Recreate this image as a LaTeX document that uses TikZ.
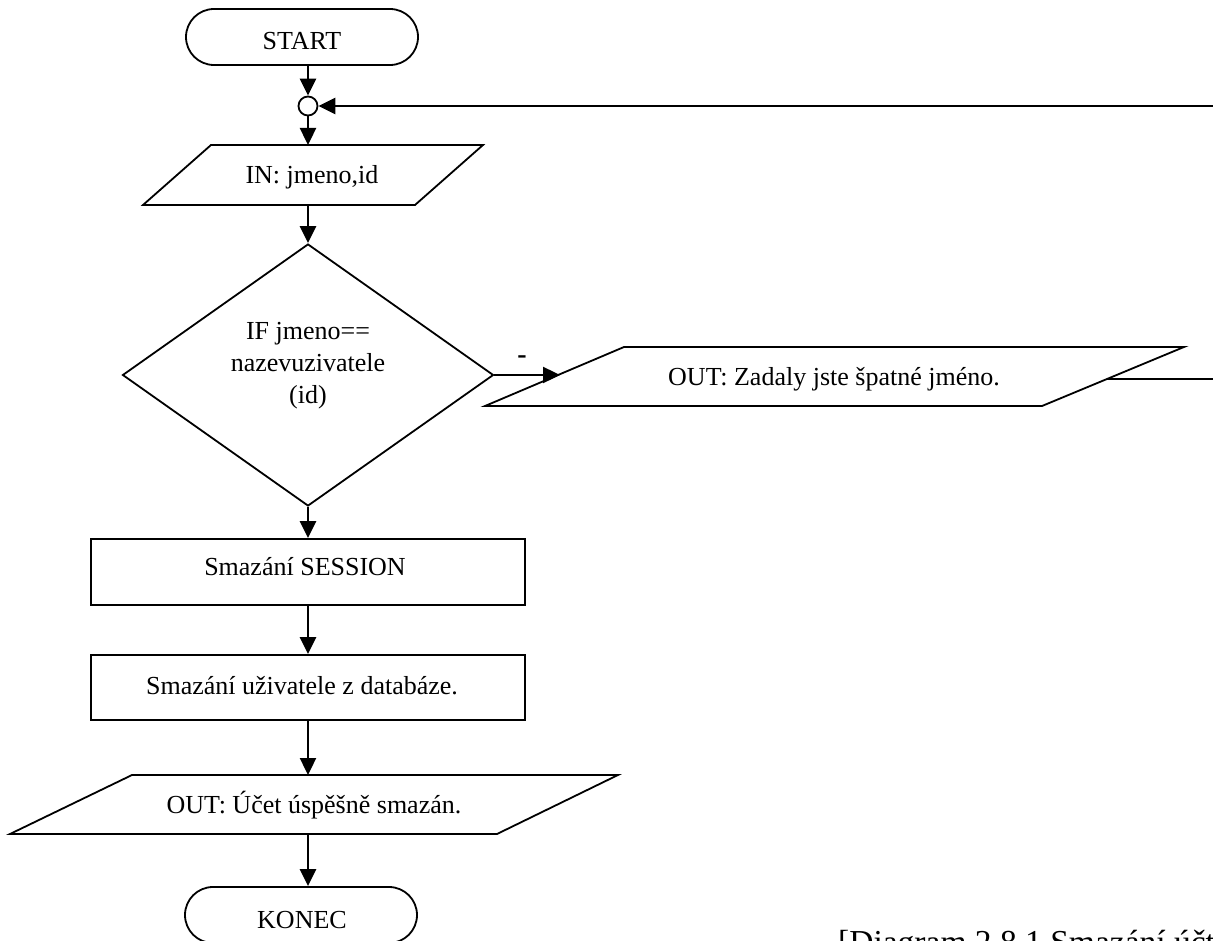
\documentclass[tikz,border=0pt]{standalone}
\usepackage{fontspec}
\setmainfont{Liberation Serif}
\usetikzlibrary{shapes.geometric,shapes.misc,arrows.meta}

\tikzset{
  txt/.style={font=\fontsize{26}{31}\selectfont, inner sep=0pt, anchor=base},
  outline/.style={draw=black, line width=1.8pt, line join=miter},
  term/.style={outline, rounded rectangle, minimum width=232pt, minimum height=56pt, inner sep=0pt},
  proc/.style={outline, rectangle, inner sep=0pt},
  flow/.style={line width=2.4pt, -{Triangle[length=17pt,width=16pt]}},
  plain/.style={line width=2.4pt},
}

\begin{document}
\begin{tikzpicture}[x=1pt, y=-1pt]
\useasboundingbox (0,0) rectangle (1213,941);
\clip (0,0) rectangle (1213,941);

% terminals
\node[term] (start) at (302,37) {};
\node[txt] (startT) at (302,50) {START};
\node[term] (konec) at (301,915) {};
\node[txt] (konecT) at (302,928) {KONEC};

% junction of the main line and the return loop
\node[outline, circle, minimum size=19pt, inner sep=0pt] (junc) at (308,106) {};

% input parallelogram
\coordinate (in-tl) at (211,145); \coordinate (in-tr) at (483,145);
\coordinate (in-br) at (415,205); \coordinate (in-bl) at (143,205);
\draw[outline] (in-tl) -- (in-tr) -- (in-br) -- (in-bl) -- cycle;
\coordinate (in-n) at (308,145); \coordinate (in-s) at (308,205);
\node[txt] (inT) at (312,184) {IN: jmeno,id};

% decision
\node[outline, diamond, minimum width=371pt, minimum height=262pt, inner sep=0pt] (dec) at (308,375) {};
\node[txt] (decT1) at (308,339) {IF jmeno==};
\node[txt] (decT2) at (308,371) {nazevuzivatele};
\node[txt] (decT3) at (308,403) {(id)};

% error output on the "no" branch
\coordinate (err-tl) at (624,347); \coordinate (err-tr) at (1184,347);
\coordinate (err-br) at (1042,406); \coordinate (err-bl) at (485,406);
\draw[outline] (err-tl) -- (err-tr) -- (err-br) -- (err-bl) -- cycle;
\coordinate (err-in) at (560,375);
\coordinate (err-out) at (1107,379);
\node[txt] (errT) at (834,385) {OUT: Zadaly jste špatné jméno.};
\node[txt, font=\fontsize{28}{31}\selectfont\bfseries] (noT) at (522,363) {-};

% processing steps
\node[proc, minimum width=434pt, minimum height=66pt] (sess) at (308,572) {};
\node[txt] (sessT) at (305,575) {Smazání SESSION};
\node[proc, minimum width=434pt, minimum height=65pt] (del) at (308,687.5) {};
\node[txt] (delT) at (302,694) {Smazání uživatele z databáze.};

% final output parallelogram
\coordinate (ok-tl) at (132,775); \coordinate (ok-tr) at (618,775);
\coordinate (ok-br) at (497,834); \coordinate (ok-bl) at (10,834);
\draw[outline] (ok-tl) -- (ok-tr) -- (ok-br) -- (ok-bl) -- cycle;
\coordinate (ok-n) at (308,775); \coordinate (ok-s) at (308,834);
\node[txt] (okT) at (314,813) {OUT: Účet úspěšně smazán.};

% return loop corners (beyond the right margin)
\coordinate (loop-a) at (1218,379);
\coordinate (loop-b) at (1218,106);

% connectors
\draw[flow] (start.south -| junc) -- (junc.north);
\draw[flow] (junc.south) -- (in-n);
\draw[flow] (in-s) -- (dec.north);
\draw[flow] (dec.south) -- (sess.north);
\draw[flow] (sess.south) -- (del.north);
\draw[flow] (del.south) -- (ok-n);
\draw[flow] (ok-s) -- (konec.north -| ok-s);
\draw[flow] (dec.east) -- (err-in);
\draw[plain] (err-out) -- (loop-a) -- (loop-b);
\draw[flow] (loop-b) -- (junc.east);

% caption
\node[txt, font=\fontsize{33.5}{38}\selectfont, anchor=base west] (cap) at (838,953) {[Diagram 2.8.1 Smazání účtu]};
\end{tikzpicture}
\end{document}
